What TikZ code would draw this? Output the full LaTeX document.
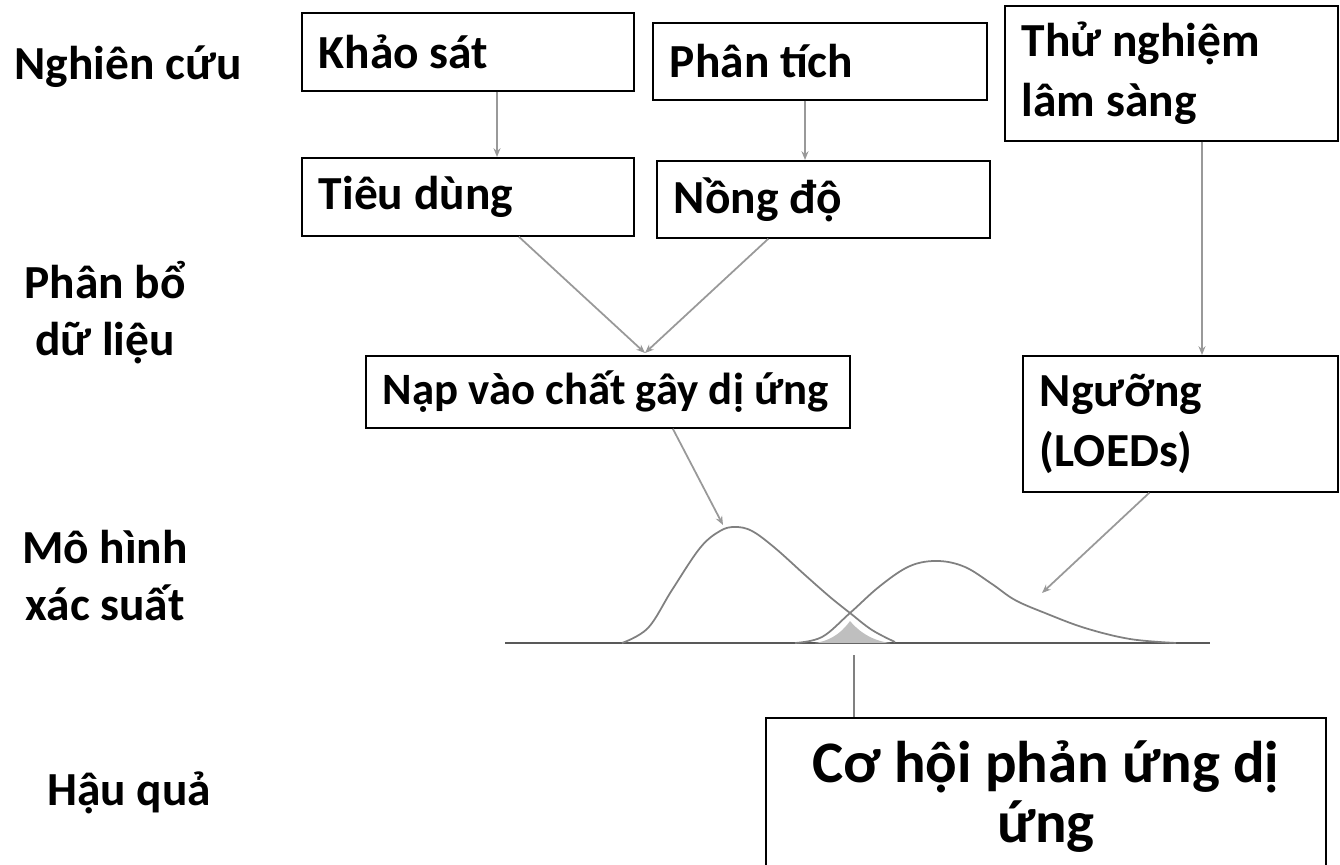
\documentclass[tikz,border=0pt]{standalone}
\usepackage{fontspec}
\setmainfont{Carlito}
\usetikzlibrary{arrows.meta,calc}

\tikzset{
  stage/.style={font=\fontsize{27}{32}\selectfont\bfseries, align=flush center},
  card/.style={draw, line width=1pt, anchor=north west, inner xsep=0.34cm, inner ysep=0pt,
    align=flush left, font=\fontsize{27}{32}\selectfont\bfseries},
  link/.style={draw=black!40, line width=1pt, -{Stealth[length=5pt,width=4pt]}},
  curve/.style={draw=black!50, line width=1pt}
}

\begin{document}
\begin{tikzpicture}[x=0.02cm, y=-0.02cm]
\path[use as bounding box, clip] (0,0) rectangle (1340,865);

% row labels
\node[stage, anchor=base] (nghiencuu) at (128,80) {Nghiên cứu};
\node[stage, anchor=base] (phanbo) at (105,355) {Phân bổ\\ dữ liệu};
\node[stage, anchor=base] (mohinh) at (105,620) {Mô hình\\ xác suất};
\node[stage, anchor=base] (hauqua) at (129,805) {Hậu quả};

% boxes
\node[card, text width=5.96cm, minimum height=1.56cm] (khaosat) at (301,12) {Khảo sát};
\node[card, text width=6.0cm, minimum height=1.54cm] (phantich) at (652,22) {Phân tích};
\node[card, text width=5.98cm, minimum height=2.7cm,
  font=\fontsize{27}{34}\selectfont\bfseries] (thunghiem) at (1004,5) {Thử nghiệm\\ lâm sàng};
\node[card, text width=5.96cm, minimum height=1.56cm] (tieudung) at (301,157) {Tiêu dùng};
\node[card, text width=5.98cm, minimum height=1.54cm] (nongdo) at (656,160) {Nồng độ};
\node[card, text width=9.0cm, minimum height=1.44cm,
  font=\fontsize{25.5}{30}\selectfont\bfseries] (nap) at (365,355) {Nạp vào chất gây dị ứng};
\node[card, text width=5.62cm, minimum height=2.72cm,
  font=\fontsize{27}{34}\selectfont\bfseries] (nguong) at (1022,355) {Ngưỡng\\ (LOEDs)};
\node[card, text width=10.52cm, minimum height=3.16cm, align=flush center,
  font=\fontsize{33.5}{34}\selectfont\bfseries] (cohoi) at (765,717) {Cơ hội phản ứng dị\\ ứng};

% distributions
\draw[draw=black!65, line width=1.3pt] (505,643) -- (1210,643);
\fill[black!25] (815,643) .. controls (835,640) and (845,628) .. (850,621)
  .. controls (856,628) and (868,640) .. (890,643) -- cycle;
\draw[curve] plot[smooth, tension=0.6] coordinates {(622,643) (648,628) (672,590) (700,548)
  (720,531) (735,527) (752,531) (775,548) (805,575) (830,597) (850,613) (872,630) (895,642)};
\draw[curve] plot[smooth, tension=0.6] coordinates {(795,643) (822,637) (850,613) (880,586)
  (910,566) (938,561) (965,567) (992,584) (1015,600) (1045,613) (1085,628) (1130,639) (1176,643)};

% connectors
\coordinate (scol) at (497,0);
\coordinate (pcol) at (805,0);
\coordinate (tcol) at (1202,0);
\coordinate (vtip) at (645,353);
\coordinate (lpeak) at (723,525);
\coordinate (rtail) at (1042,593);
\coordinate (cross) at (854,655);

\draw[link] (khaosat.south -| scol) -- (tieudung.north -| scol);
\draw[link] (phantich.south -| pcol) -- (nongdo.north -| pcol);
\draw[link] (thunghiem.south -| tcol) -- (nguong.north -| tcol);
\draw[link] ($(tieudung.south)+(51,0)$) -- (vtip);
\draw[link] ($(nongdo.south)+(-55,0)$) -- (vtip);
\draw[link] ($(nap.south)+(65,0)$) -- (lpeak);
\draw[link] ($(nguong.south)+(-31,0)$) -- (rtail);
\draw[curve] (cross) -- (cohoi.north -| cross);
\end{tikzpicture}
\end{document}
